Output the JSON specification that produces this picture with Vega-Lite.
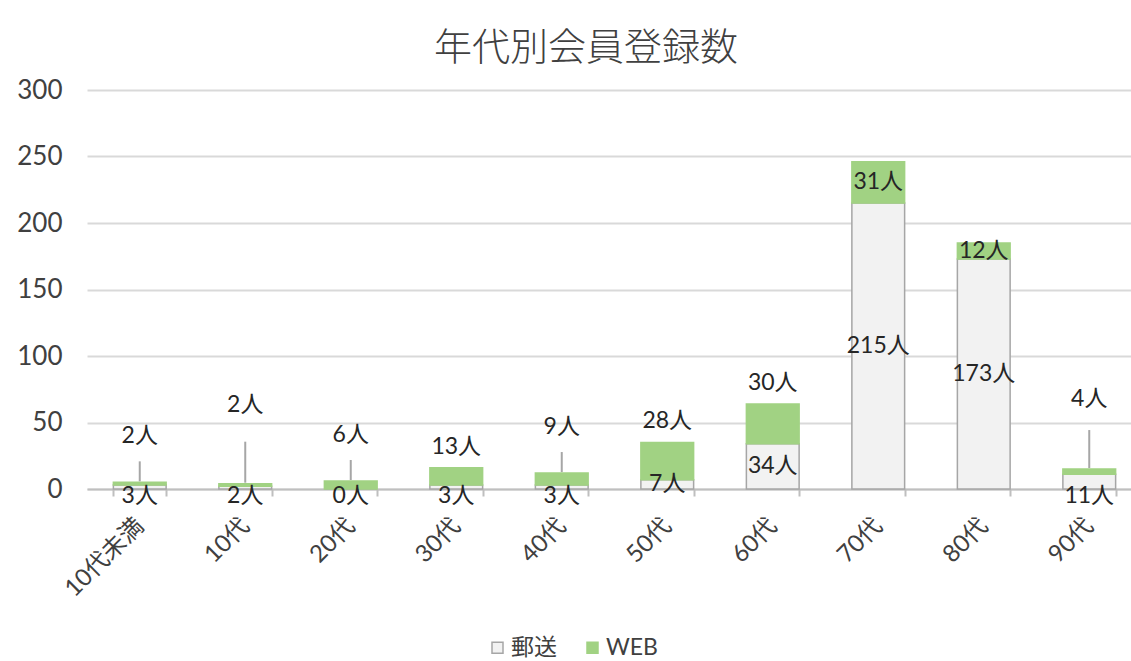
{
  "$schema": "https://vega.github.io/schema/vega-lite/v6.json",
  "width": 1044,
  "height": 399,
  "autosize": {"type": "none"},
  "padding": {"left": 87, "top": 90, "right": 0, "bottom": 172},
  "background": "white",
  "title": {
    "text": "年代別会員登録数",
    "fontSize": 38,
    "font": "Noto Sans CJK JP",
    "fontWeight": 300,
    "color": "#404040",
    "anchor": "middle",
    "dx": -23,
    "dy": 51,
    "offset": 22,
    "baseline": "bottom"
  },
  "data": {
    "values": [
      {"age": "10代未満", "type": "郵送", "n": 3},
      {"age": "10代未満", "type": "WEB", "n": 2},
      {"age": "10代", "type": "郵送", "n": 2},
      {"age": "10代", "type": "WEB", "n": 2},
      {"age": "20代", "type": "郵送", "n": 0},
      {"age": "20代", "type": "WEB", "n": 6},
      {"age": "30代", "type": "郵送", "n": 3},
      {"age": "30代", "type": "WEB", "n": 13},
      {"age": "40代", "type": "郵送", "n": 3},
      {"age": "40代", "type": "WEB", "n": 9},
      {"age": "50代", "type": "郵送", "n": 7},
      {"age": "50代", "type": "WEB", "n": 28},
      {"age": "60代", "type": "郵送", "n": 34},
      {"age": "60代", "type": "WEB", "n": 30},
      {"age": "70代", "type": "郵送", "n": 215},
      {"age": "70代", "type": "WEB", "n": 31},
      {"age": "80代", "type": "郵送", "n": 173},
      {"age": "80代", "type": "WEB", "n": 12},
      {"age": "90代", "type": "郵送", "n": 11},
      {"age": "90代", "type": "WEB", "n": 4}
    ]
  },
  "transform": [
    {"stack": "n", "groupby": ["age"], "sort": [{"field": "type", "order": "descending"}], "as": ["lo", "hi"]}
  ],
  "encoding": {
    "x": {
      "field": "age",
      "type": "nominal",
      "title": null,
      "scale": {
        "domain": ["10代未満", "10代", "20代", "30代", "40代", "50代", "60代", "70代", "80代", "90代"],
        "range": [0, 1055],
        "paddingInner": 0.5,
        "paddingOuter": 0.25
      },
      "axis": {
        "labelAngle": -45,
        "labelBaseline": "middle",
        "labelAlign": "right",
        "labelFontSize": 24,
        "labelColor": "#404040",
        "domainColor": "#bfbfbf",
        "domainWidth": 2,
        "tickColor": "#bfbfbf",
        "tickWidth": 2,
        "tickSize": 7,
        "tickBand": "extent",
        "labelPadding": 26
      }
    }
  },
  "layer": [
    {
      "mark": {"type": "bar", "strokeWidth": 1.5},
      "encoding": {
        "y": {
          "field": "lo",
          "type": "quantitative",
          "title": null,
          "scale": {"domain": [0, 300]},
          "axis": {
            "values": [0, 50, 100, 150, 200, 250, 300],
            "domain": false,
            "ticks": false,
            "grid": true,
            "gridColor": "#d9d9d9",
            "gridWidth": 2,
            "labelFontSize": 26,
            "labelColor": "#404040",
            "labelPadding": 25
          }
        },
        "y2": {"field": "hi"},
        "fill": {
          "field": "type",
          "type": "nominal",
          "scale": {"domain": ["郵送", "WEB"], "range": ["#f2f2f2", "#a1d283"]},
          "legend": {
            "orient": "none", "legendX": 399, "legendY": 546, "direction": "horizontal",
            "title": null, "labelFontSize": 23, "labelColor": "#404040",
            "symbolType": "square", "symbolSize": 121, "symbolStrokeWidth": 1.5,
            "labelOffset": 2, "columnPadding": 24, "padding": 0
          }
        },
        "stroke": {
          "field": "type",
          "type": "nominal",
          "scale": {"domain": ["郵送", "WEB"], "range": ["#a6a6a6", "#a1d283"]},
          "legend": {
            "orient": "none", "legendX": 399, "legendY": 546, "direction": "horizontal",
            "title": null, "labelFontSize": 23, "labelColor": "#404040",
            "symbolType": "square", "symbolSize": 121, "symbolStrokeWidth": 1.5,
            "labelOffset": 2, "columnPadding": 24, "padding": 0
          }
        }
      }
    },
    {
      "transform": [
        {"filter": {"field": "type", "equal": "郵送"}},
        {"filter": {"field": "age", "oneOf": ["50代", "60代", "70代", "80代"]}},
        {"fold": ["lo", "hi"], "as": ["edge", "v"]}
      ],
      "mark": {"type": "text", "fontSize": 23, "color": "#262626", "baseline": "middle", "text": {"expr": "datum.n + '人'"}},
      "encoding": {
        "y": {"aggregate": "mean", "field": "v", "type": "quantitative", "title": null, "scale": {"domain": [0, 300]}},
        "detail": {"field": "n", "type": "quantitative"}
      }
    },
    {
      "transform": [
        {"filter": {"field": "type", "equal": "WEB"}},
        {"filter": {"field": "age", "oneOf": ["70代", "80代"]}},
        {"fold": ["lo", "hi"], "as": ["edge", "v"]}
      ],
      "mark": {"type": "text", "fontSize": 23, "color": "#262626", "baseline": "middle", "text": {"expr": "datum.n + '人'"}},
      "encoding": {
        "y": {"aggregate": "mean", "field": "v", "type": "quantitative", "title": null, "scale": {"domain": [0, 300]}},
        "detail": {"field": "n", "type": "quantitative"}
      }
    },
    {
      "transform": [
        {"filter": {"field": "type", "equal": "郵送"}},
        {"filter": {"field": "age", "oneOf": ["10代未満", "10代", "20代", "30代", "40代", "90代"]}}
      ],
      "mark": {"type": "text", "fontSize": 23, "color": "#262626", "baseline": "middle", "dy": 7, "text": {"expr": "datum.n + '人'"}},
      "encoding": {
        "y": {"field": "lo", "type": "quantitative", "title": null, "scale": {"domain": [0, 300]}}
      }
    },
    {
      "transform": [
        {"filter": {"field": "type", "equal": "WEB"}},
        {"filter": {"field": "age", "oneOf": ["30代", "50代", "60代"]}}
      ],
      "mark": {"type": "text", "fontSize": 23, "color": "#262626", "baseline": "middle", "dy": -21, "text": {"expr": "datum.n + '人'"}},
      "encoding": {
        "y": {"field": "hi", "type": "quantitative", "title": null, "scale": {"domain": [0, 300]}}
      }
    },
    {
      "transform": [
        {"filter": {"field": "type", "equal": "WEB"}},
        {"filter": {"field": "age", "oneOf": ["10代未満", "20代", "40代"]}}
      ],
      "mark": {"type": "text", "fontSize": 23, "color": "#262626", "baseline": "middle", "dy": -46, "text": {"expr": "datum.n + '人'"}},
      "encoding": {
        "y": {"field": "hi", "type": "quantitative", "title": null, "scale": {"domain": [0, 300]}}
      }
    },
    {
      "transform": [
        {"filter": {"field": "type", "equal": "WEB"}},
        {"filter": {"field": "age", "oneOf": ["10代未満", "20代", "40代"]}}
      ],
      "mark": {"type": "rule", "stroke": "#a6a6a6", "strokeWidth": 2, "yOffset": -1, "y2Offset": -21},
      "encoding": {
        "y": {"field": "hi", "type": "quantitative", "title": null, "scale": {"domain": [0, 300]}},
        "y2": {"field": "hi"}
      }
    },
    {
      "transform": [
        {"filter": {"field": "type", "equal": "WEB"}},
        {"filter": {"field": "age", "equal": "10代"}}
      ],
      "mark": {"type": "text", "fontSize": 23, "color": "#262626", "baseline": "middle", "dy": -79, "text": {"expr": "datum.n + '人'"}},
      "encoding": {
        "y": {"field": "hi", "type": "quantitative", "title": null, "scale": {"domain": [0, 300]}}
      }
    },
    {
      "transform": [
        {"filter": {"field": "type", "equal": "WEB"}},
        {"filter": {"field": "age", "equal": "10代"}}
      ],
      "mark": {"type": "rule", "stroke": "#a6a6a6", "strokeWidth": 2, "yOffset": -1, "y2Offset": -42},
      "encoding": {
        "y": {"field": "hi", "type": "quantitative", "title": null, "scale": {"domain": [0, 300]}},
        "y2": {"field": "hi"}
      }
    },
    {
      "transform": [
        {"filter": {"field": "type", "equal": "WEB"}},
        {"filter": {"field": "age", "equal": "90代"}}
      ],
      "mark": {"type": "text", "fontSize": 23, "color": "#262626", "baseline": "middle", "dy": -70, "text": {"expr": "datum.n + '人'"}},
      "encoding": {
        "y": {"field": "hi", "type": "quantitative", "title": null, "scale": {"domain": [0, 300]}}
      }
    },
    {
      "transform": [
        {"filter": {"field": "type", "equal": "WEB"}},
        {"filter": {"field": "age", "equal": "90代"}}
      ],
      "mark": {"type": "rule", "stroke": "#a6a6a6", "strokeWidth": 2, "yOffset": -1, "y2Offset": -39},
      "encoding": {
        "y": {"field": "hi", "type": "quantitative", "title": null, "scale": {"domain": [0, 300]}},
        "y2": {"field": "hi"}
      }
    }
  ],
  "config": {
    "view": {"stroke": null},
    "font": "Lato, Noto Sans CJK JP",
    "legend": {"labelFont": "Lato, Noto Sans CJK JP"},
    "axis": {"labelFont": "Lato, Noto Sans CJK JP"}
  }
}
